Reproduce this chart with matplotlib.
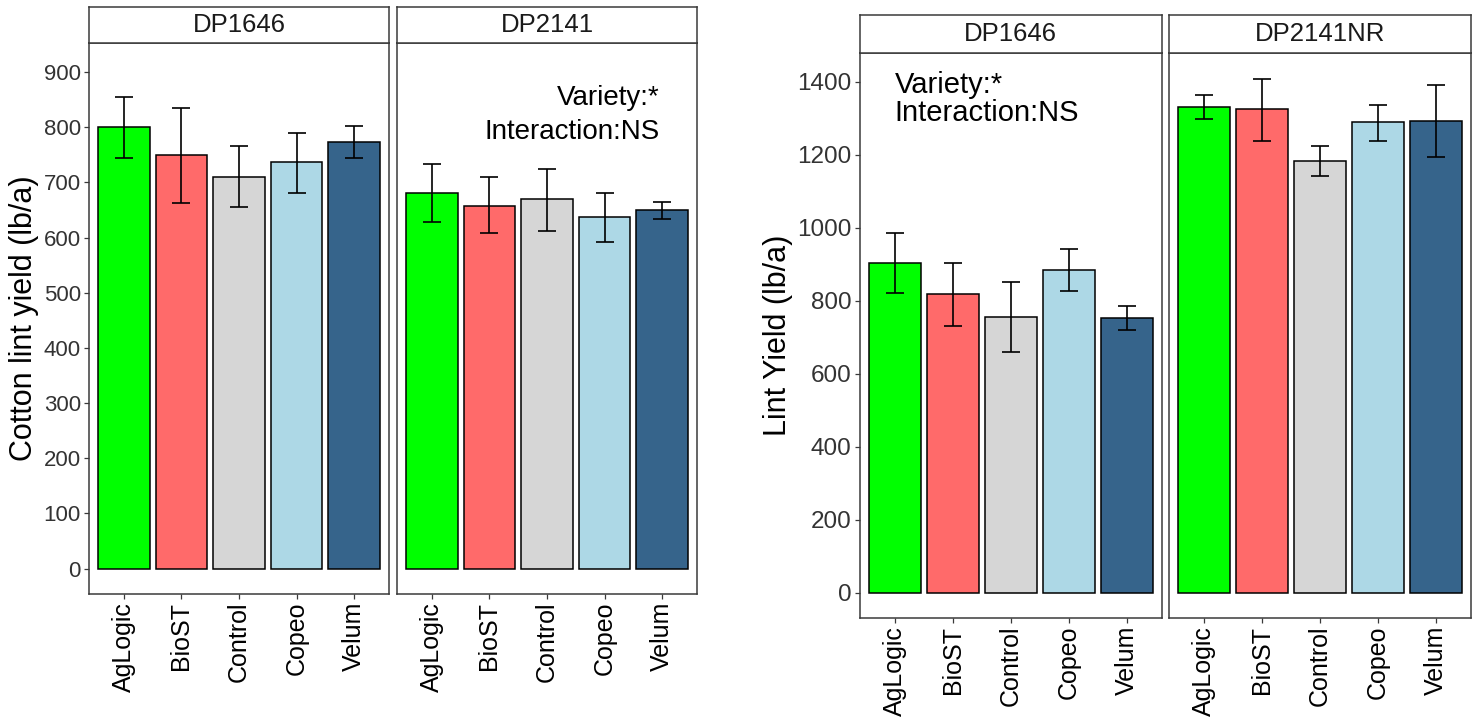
import numpy as np
import matplotlib
matplotlib.use('Agg')
import matplotlib.pyplot as plt

plt.rcParams['font.family'] = ['Liberation Sans', 'DejaVu Sans']

treatments = ['AgLogic', 'BioST', 'Control', 'Copeo', 'Velum']
colors = ['#00FF00', '#FF6A6A', '#D6D6D6', '#ADD8E6', '#36648B']

# left chart: cotton lint yield
left_panels = ['DP1646', 'DP2141']
left_mean = [[800, 750, 710, 736, 773],
             [681, 658, 670, 638, 649]]
left_low = [[744, 662, 656, 680, 744],
            [628, 609, 612, 592, 633]]
left_high = [[855, 834, 765, 789, 802],
             [733, 710, 725, 680, 664]]

# right chart: lint yield
right_panels = ['DP1646', 'DP2141NR']
right_mean = [[905, 818, 756, 884, 753],
              [1331, 1327, 1182, 1289, 1293]]
right_low = [[822, 731, 660, 827, 720],
             [1298, 1239, 1141, 1239, 1195]]
right_high = [[987, 905, 851, 942, 786],
              [1363, 1408, 1223, 1338, 1392]]

W, H = 1478, 727
fig = plt.figure(figsize=(W / 100, H / 100), dpi=100)

border = '#3a3a3a'


def px_axes(x0, x1, ytop, ybot):
    return fig.add_axes([x0 / W, 1 - ybot / H, (x1 - x0) / W, (ybot - ytop) / H])


def draw_chart(xs, ytop, ybot, strip_top, names, means, lows, highs,
               ylim, yticks, ytick_size, ylabel, ylabel_x):
    axes = []
    for i, (x0, x1) in enumerate(xs):
        ax = px_axes(x0, x1, ytop, ybot)
        pos = np.arange(1, len(treatments) + 1)
        m = np.array(means[i])
        err = [m - np.array(lows[i]), np.array(highs[i]) - m]
        ax.bar(pos, m, width=0.9, color=colors, edgecolor='black',
               linewidth=1.1, zorder=2)
        ax.errorbar(pos, m, yerr=err, fmt='none', ecolor='black',
                    elinewidth=1.2, capsize=6.3, capthick=1.2, zorder=3)
        ax.set_xlim(0.4, 5.6)
        ax.set_ylim(*ylim)
        ax.set_xticks(pos)
        ax.set_xticklabels(treatments, rotation=90, fontsize=18, color='black')
        ax.set_yticks(yticks)
        if i == 0:
            ax.set_yticklabels([str(v) for v in yticks], fontsize=ytick_size,
                               color='#333333')
            ax.tick_params(axis='y', length=3.5, width=0.9, color=border, pad=2.5)
        else:
            ax.tick_params(axis='y', left=False, labelleft=False)
        ax.tick_params(axis='x', length=3.5, width=0.9, color=border, pad=2)
        for s in ax.spines.values():
            s.set_color(border)
            s.set_linewidth(1.1)
        axes.append(ax)

        st = px_axes(x0, x1, strip_top, ytop)
        st.set_xticks([])
        st.set_yticks([])
        for s in st.spines.values():
            s.set_color(border)
            s.set_linewidth(1.1)
        st.text(0.5, 0.5, names[i], ha='center', va='center', fontsize=18.5,
                color='#1a1a1a', transform=st.transAxes)

    fig.text(ylabel_x / W, 1 - ((ytop + ybot) / 2) / H, ylabel, rotation=90,
             ha='center', va='center', fontsize=22, color='black')
    return axes


la = draw_chart([(89.3, 388.7), (397.3, 696.7)], 43.3, 594, 6.7,
                left_panels, left_mean, left_low, left_high,
                (-46, 952), list(range(0, 1000, 100)), 16,
                'Cotton lint yield (lb/a)', 24)

ra = draw_chart([(860, 1161.7), (1169, 1470.7)], 52.7, 618.3, 15,
                right_panels, right_mean, right_low, right_high,
                (-70, 1480), list(range(0, 1500, 200)), 17.5,
                'Lint Yield (lb/a)', 778)

la[1].text(4.95, 853, 'Variety:*', ha='right', va='center', fontsize=20)
la[1].text(4.95, 791, 'Interaction:NS', ha='right', va='center', fontsize=20)

ra[0].text(1.0, 1391, 'Variety:*', ha='left', va='center', fontsize=21)
ra[0].text(1.0, 1315, 'Interaction:NS', ha='left', va='center', fontsize=21)

fig.savefig('out.png', dpi=100)
